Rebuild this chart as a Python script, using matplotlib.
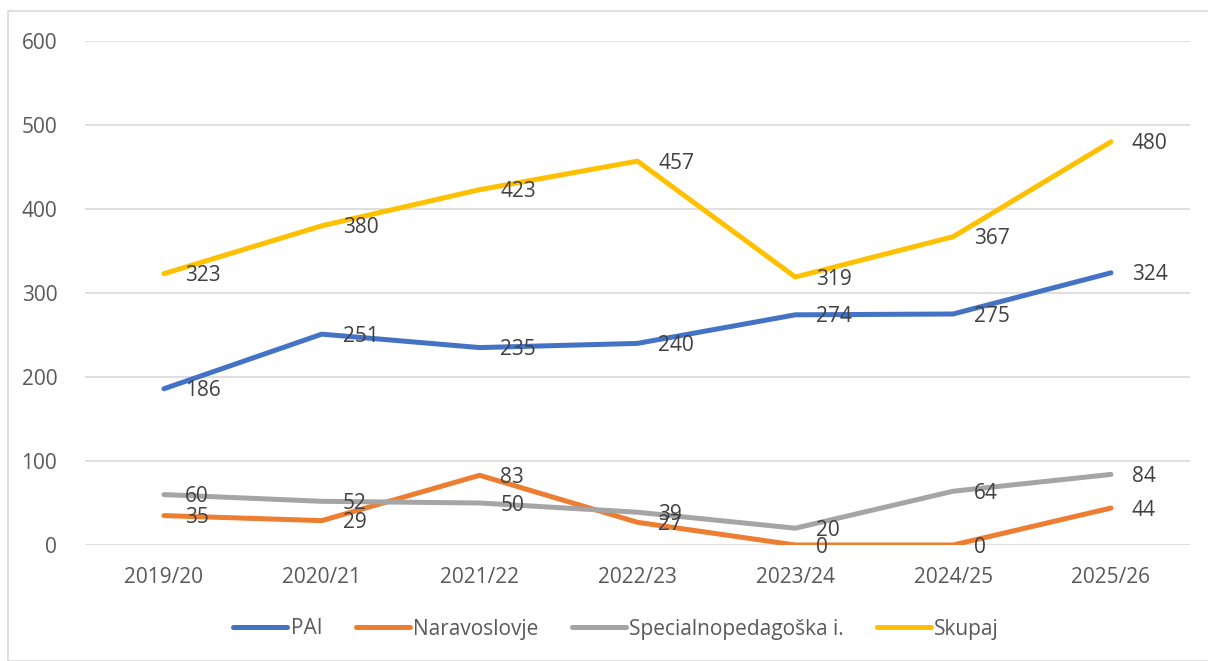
import matplotlib.pyplot as plt
from matplotlib.patches import Rectangle

years = ["2019/20", "2020/21", "2021/22", "2022/23", "2023/24", "2024/25", "2025/26"]
pai = [186, 251, 235, 240, 274, 275, 324]
naravoslovje = [35, 29, 83, 27, 0, 0, 44]
specialna = [60, 52, 50, 39, 20, 64, 84]
skupaj = [323, 380, 423, 457, 319, 367, 480]

series = [
    ("PAI", pai, "#4472C4"),
    ("Naravoslovje", naravoslovje, "#ED7D31"),
    ("Specialnopedagoška i.", specialna, "#A5A5A5"),
    ("Skupaj", skupaj, "#FFC000"),
]

plt.rcParams['font.family'] = ['Open Sans', 'DejaVu Sans']
fs = 15

fig = plt.figure(figsize=(12.08, 6.61), dpi=100)
ax = fig.add_axes([0.0704, 0.1755, 0.9146, 0.7625])

# light frame round the chart area
fig.patches.append(Rectangle((8 / 1208, 0), 1.2, 1 - 11 / 661, transform=fig.transFigure,
                             fill=False, edgecolor="#D9D9D9", linewidth=1.2))

x = range(len(years))
for name, vals, col in series:
    ax.plot(x, vals, color=col, linewidth=3.6, label=name, solid_capstyle="round",
            solid_joinstyle="round")
    for i, v in enumerate(vals):
        ax.annotate(str(v), (i, v), xytext=(15, -1.5), textcoords="offset points",
                    ha="left", va="center", fontsize=fs, color="#404040")

ax.set_xlim(-0.5, len(years) - 0.5)
ax.set_ylim(0, 600)
ax.set_yticks(range(0, 601, 100))
ax.set_xticks(list(x))
ax.set_xticklabels(years)
ax.tick_params(axis="both", length=0, labelsize=fs, colors="#595959")
ax.tick_params(axis="y", pad=20)
ax.tick_params(axis="x", pad=16)
ax.grid(axis="y", color="#D9D9D9", linewidth=1.2)
ax.set_axisbelow(True)
for s in ax.spines.values():
    s.set_visible(False)

fig.legend(loc="center", bbox_to_anchor=(0.51, 1 - 629 / 661), ncol=4, frameon=False,
           fontsize=fs, handlelength=2.6, columnspacing=1.6, handletextpad=0.15,
           labelcolor="#595959")

fig.savefig("out.png", dpi=100)
